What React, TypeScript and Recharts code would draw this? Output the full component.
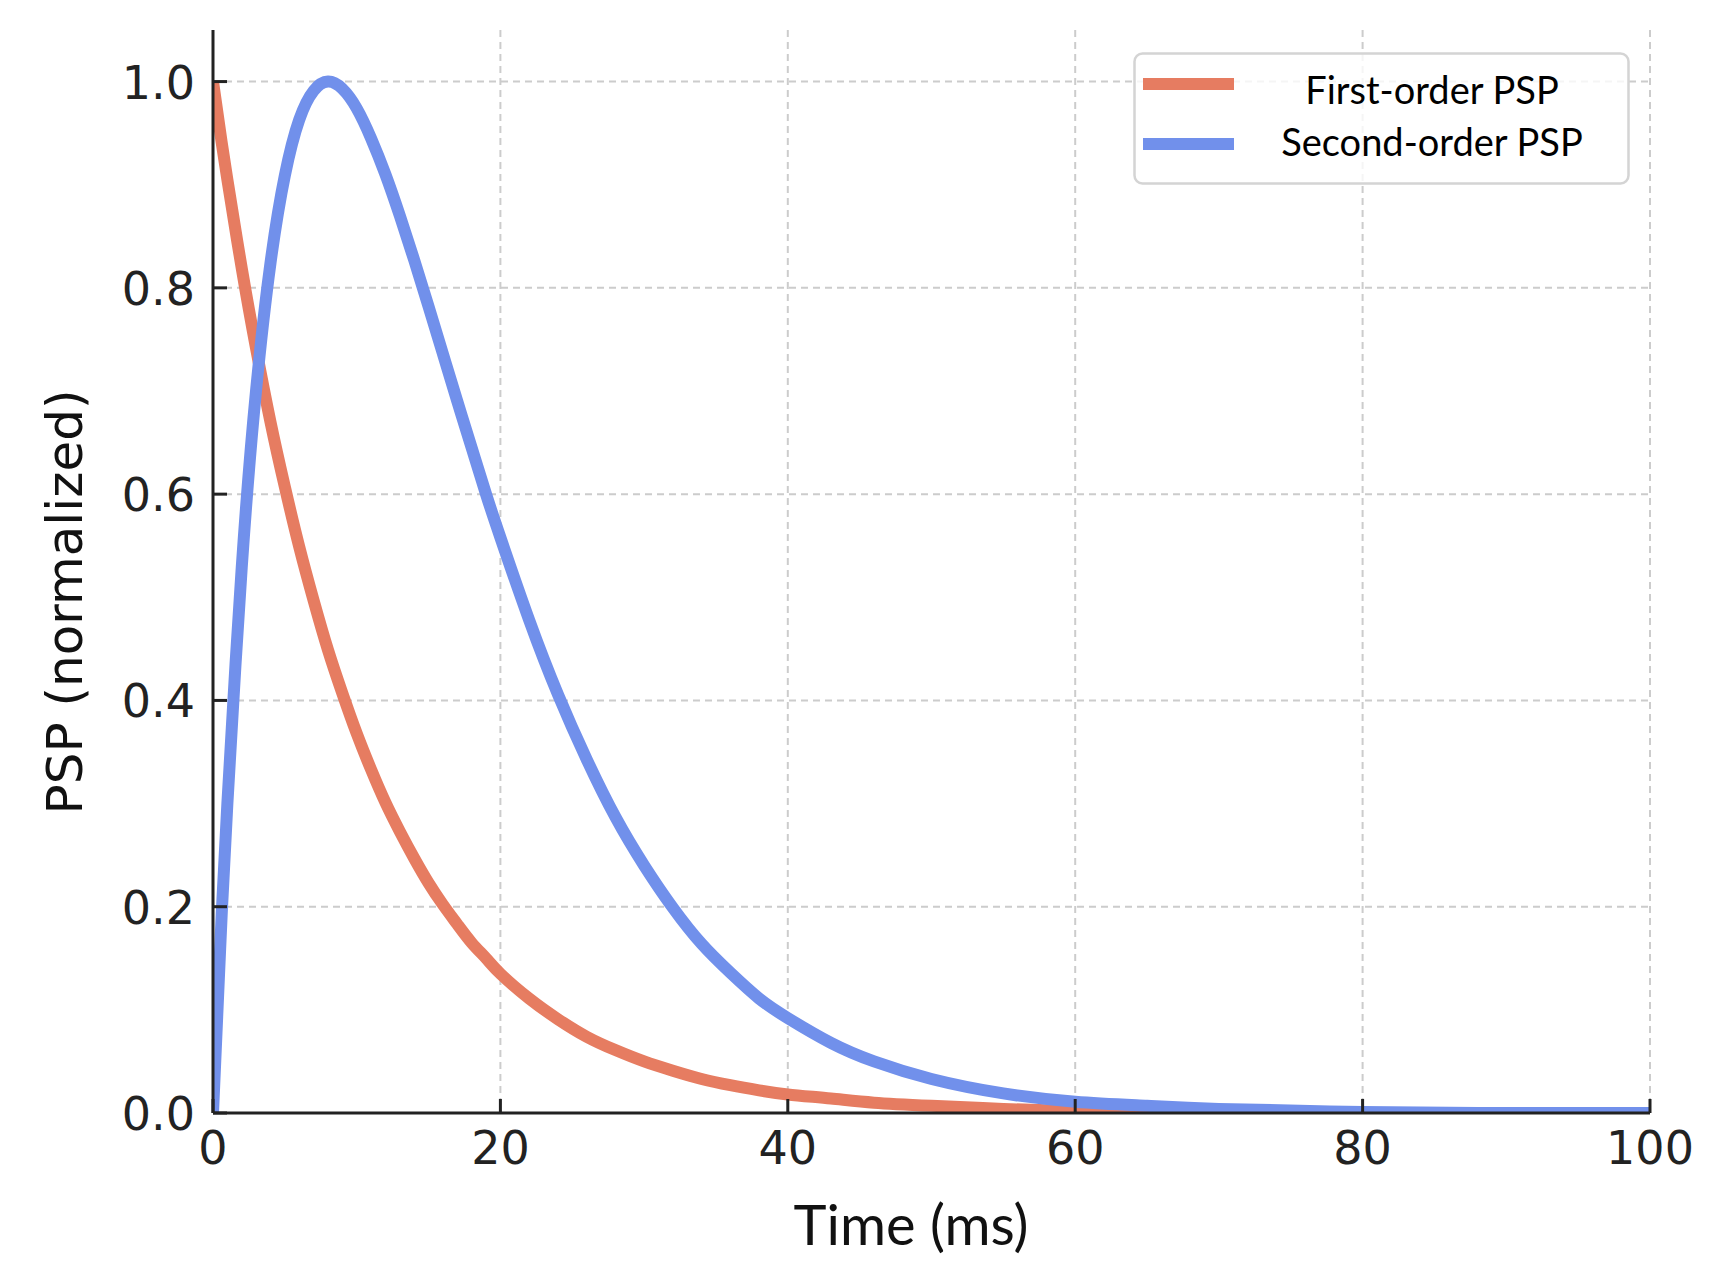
import React from "react";
import { LineChart, Line, XAxis, YAxis, CartesianGrid, Legend } from "recharts";

const TIME = [0, 0.5, 1, 2, 3, 4, 5, 6, 7, 8, 9, 10, 11, 12, 13, 14, 15, 16, 17, 18, 19, 20, 22, 24, 26, 28, 30, 32, 34, 36, 38, 40, 43, 46, 50, 55, 60, 65, 70, 80, 90, 100];
const FIRST_ORDER = [1.0, 0.951, 0.905, 0.819, 0.741, 0.67, 0.607, 0.549, 0.497, 0.449, 0.407, 0.368, 0.333, 0.301, 0.273, 0.247, 0.223, 0.202, 0.183, 0.165, 0.15, 0.135, 0.111, 0.091, 0.074, 0.061, 0.05, 0.041, 0.033, 0.027, 0.022, 0.018, 0.014, 0.01, 0.007, 0.004, 0.002, 0.0015, 0.001, 0.0, 0.0, 0.0];
const SECOND_ORDER = [0.0, 0.16, 0.3, 0.529, 0.701, 0.824, 0.909, 0.963, 0.991, 1.0, 0.993, 0.974, 0.945, 0.91, 0.87, 0.827, 0.782, 0.736, 0.69, 0.645, 0.6, 0.558, 0.478, 0.406, 0.343, 0.287, 0.24, 0.199, 0.164, 0.136, 0.111, 0.092, 0.068, 0.05, 0.033, 0.019, 0.011, 0.007, 0.004, 0.001, 0.0, 0.0];
const X_TICKS = [0, 20, 40, 60, 80, 100];
const Y_TICKS = [0, 0.2, 0.4, 0.6, 0.8, 1.0];
const SERIES_NAMES = ["First-order PSP", "Second-order PSP"];
const COLORS = ["#E67C61", "#7190EB"];

const data = TIME.map((t, i) => ({ t, first: FIRST_ORDER[i], second: SECOND_ORDER[i] }));

const TICK_FONT = "'DejaVu Sans', sans-serif";
const LATO = "Lato, sans-serif";

const XTick = (props: any) => {
  const { x, y, payload } = props;
  return (
    <g>
      <line x1={x} x2={x} y1={y} y2={y - 14} stroke="#222" strokeWidth={3} />
      <text x={x} y={y + 51} textAnchor="middle" fontFamily={TICK_FONT} fontSize={46} fill="#222">
        {payload.value}
      </text>
    </g>
  );
};

const YTick = (props: any) => {
  const { x, y, payload } = props;
  return (
    <g>
      <line x1={x} x2={x + 14} y1={y} y2={y} stroke="#222" strokeWidth={3} />
      <text x={x - 18} y={y + 17} textAnchor="end" fontFamily={TICK_FONT} fontSize={46} fill="#222">
        {Number(payload.value).toFixed(1)}
      </text>
    </g>
  );
};

const LegendBox = (props: any) => {
  const payload = props.payload || [];
  const rows = [
    { lineY: 32, textY: 52 },
    { lineY: 92, textY: 104 },
  ];
  return (
    <svg width={497} height={133} style={{ display: "block" }}>
      <rect x={1.5} y={1.5} width={494} height={130} rx={8} ry={8} fill="rgba(255,255,255,0.8)" stroke="#d4d4d4" strokeWidth={2.5} />
      {payload.map((p: any, i: number) => (
        <g key={i}>
          <line x1={10} x2={101} y1={rows[i].lineY} y2={rows[i].lineY} stroke={p.color} strokeWidth={12} />
          <text x={299} y={rows[i].textY} textAnchor="middle" fontFamily={LATO} fontSize={38} fill="#000">
            {p.value}
          </text>
        </g>
      ))}
    </svg>
  );
};

export default function App() {
  return (
    <div style={{ width: 1728, height: 1264 }}>
      <LineChart
        width={1728}
        height={1264}
        data={data}
        margin={{ top: 22, right: 86, bottom: 99, left: 125 }}
      >
        <CartesianGrid
          stroke="#cccccc"
          strokeWidth={2}
          strokeDasharray="7 5"
          horizontalValues={Y_TICKS.slice(1)}
          verticalValues={X_TICKS.slice(1)}
        />
        <XAxis
          dataKey="t"
          type="number"
          domain={[0, 100]}
          ticks={X_TICKS}
          allowDataOverflow
          height={60}
          tickSize={0}
          tickMargin={0}
          tickLine={false}
          axisLine={{ stroke: "#222", strokeWidth: 3 }}
          tick={<XTick />}
          interval={0}
          label={{
            content: () => (
              <text x={903} y={1237} textAnchor="middle" fontFamily={LATO} fontSize={56} fill="#111">
                Time (ms)
              </text>
            ),
          }}
        />
        <YAxis
          type="number"
          domain={[0, 1.05]}
          ticks={Y_TICKS}
          allowDataOverflow
          width={80}
          tickSize={0}
          tickMargin={0}
          tickLine={false}
          axisLine={{ stroke: "#222", strokeWidth: 3 }}
          tick={<YTick />}
          interval={0}
          label={{
            content: () => (
              <text
                x={74}
                y={594}
                transform="rotate(-90, 74, 594)"
                textAnchor="middle"
                fontFamily={TICK_FONT}
                fontSize={50}
                fill="#111"
              >
                PSP (normalized)
              </text>
            ),
          }}
        />
        <Legend
          layout="horizontal"
          verticalAlign="middle"
          align="center"
          content={<LegendBox />}
          wrapperStyle={{ position: "absolute", left: 1125, top: 44, width: 497, height: 133 }}
        />
        <Line
          type="natural"
          dataKey="first"
          name={SERIES_NAMES[0]}
          stroke={COLORS[0]}
          strokeWidth={12}
          dot={false}
          activeDot={false}
          isAnimationActive={false}
        />
        <Line
          type="natural"
          dataKey="second"
          name={SERIES_NAMES[1]}
          stroke={COLORS[1]}
          strokeWidth={12}
          dot={false}
          activeDot={false}
          isAnimationActive={false}
        />
      </LineChart>
    </div>
  );
}
